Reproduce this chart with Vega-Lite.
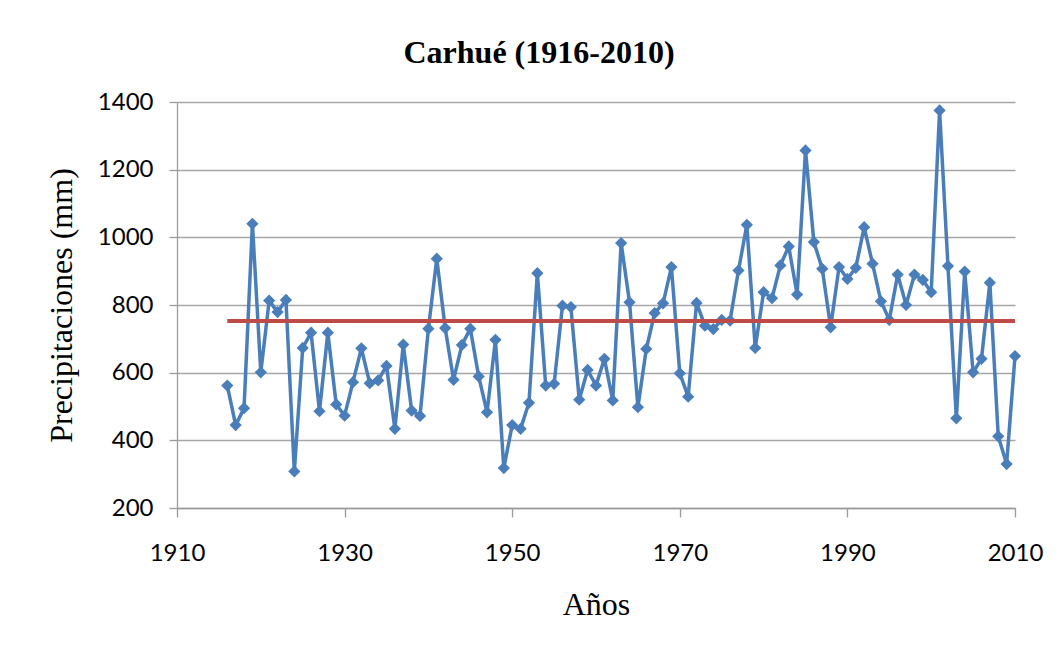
{
  "$schema": "https://vega.github.io/schema/vega-lite/v6.json",
  "width": 838,
  "height": 406,
  "autosize": {"type": "none"},
  "padding": {"left": 177, "top": 102, "right": 44, "bottom": 142},
  "background": "white",
  "title": {
    "text": "Carhué (1916-2010)",
    "font": "Liberation Serif",
    "fontSize": 32,
    "fontWeight": "bold",
    "color": "black",
    "anchor": "middle",
    "frame": "group",
    "dx": -57,
    "offset": 20
  },
  "datasets": {
    "serie": [
      {"year": 1916, "pp": 562}, {"year": 1917, "pp": 445}, {"year": 1918, "pp": 495}, {"year": 1919, "pp": 1040},
      {"year": 1920, "pp": 601}, {"year": 1921, "pp": 813}, {"year": 1922, "pp": 779}, {"year": 1923, "pp": 815},
      {"year": 1924, "pp": 308}, {"year": 1925, "pp": 673}, {"year": 1926, "pp": 718}, {"year": 1927, "pp": 486},
      {"year": 1928, "pp": 718}, {"year": 1929, "pp": 506}, {"year": 1930, "pp": 473}, {"year": 1931, "pp": 572},
      {"year": 1932, "pp": 672}, {"year": 1933, "pp": 569}, {"year": 1934, "pp": 577}, {"year": 1935, "pp": 620},
      {"year": 1936, "pp": 434}, {"year": 1937, "pp": 683}, {"year": 1938, "pp": 488}, {"year": 1939, "pp": 472},
      {"year": 1940, "pp": 730}, {"year": 1941, "pp": 937}, {"year": 1942, "pp": 732}, {"year": 1943, "pp": 579},
      {"year": 1944, "pp": 682}, {"year": 1945, "pp": 730}, {"year": 1946, "pp": 589}, {"year": 1947, "pp": 483},
      {"year": 1948, "pp": 697}, {"year": 1949, "pp": 318}, {"year": 1950, "pp": 445}, {"year": 1951, "pp": 434},
      {"year": 1952, "pp": 511}, {"year": 1953, "pp": 894}, {"year": 1954, "pp": 562}, {"year": 1955, "pp": 567},
      {"year": 1956, "pp": 798}, {"year": 1957, "pp": 794}, {"year": 1958, "pp": 520}, {"year": 1959, "pp": 608},
      {"year": 1960, "pp": 562}, {"year": 1961, "pp": 641}, {"year": 1962, "pp": 518}, {"year": 1963, "pp": 983},
      {"year": 1964, "pp": 808}, {"year": 1965, "pp": 498}, {"year": 1966, "pp": 670}, {"year": 1967, "pp": 776},
      {"year": 1968, "pp": 805}, {"year": 1969, "pp": 912}, {"year": 1970, "pp": 598}, {"year": 1971, "pp": 529},
      {"year": 1972, "pp": 806}, {"year": 1973, "pp": 739}, {"year": 1974, "pp": 729}, {"year": 1975, "pp": 756},
      {"year": 1976, "pp": 754}, {"year": 1977, "pp": 902}, {"year": 1978, "pp": 1037}, {"year": 1979, "pp": 673},
      {"year": 1980, "pp": 838}, {"year": 1981, "pp": 820}, {"year": 1982, "pp": 917}, {"year": 1983, "pp": 973},
      {"year": 1984, "pp": 831}, {"year": 1985, "pp": 1257}, {"year": 1986, "pp": 986}, {"year": 1987, "pp": 907},
      {"year": 1988, "pp": 734}, {"year": 1989, "pp": 912}, {"year": 1990, "pp": 877}, {"year": 1991, "pp": 910},
      {"year": 1992, "pp": 1030}, {"year": 1993, "pp": 922}, {"year": 1994, "pp": 811}, {"year": 1995, "pp": 756},
      {"year": 1996, "pp": 890}, {"year": 1997, "pp": 800}, {"year": 1998, "pp": 890}, {"year": 1999, "pp": 874},
      {"year": 2000, "pp": 838}, {"year": 2001, "pp": 1375}, {"year": 2002, "pp": 915}, {"year": 2003, "pp": 465},
      {"year": 2004, "pp": 899}, {"year": 2005, "pp": 601}, {"year": 2006, "pp": 641}, {"year": 2007, "pp": 866},
      {"year": 2008, "pp": 412}, {"year": 2009, "pp": 330}, {"year": 2010, "pp": 649}
    ],
    "media": [
      {"year": 1916, "pp": 753},
      {"year": 2010, "pp": 753}
    ]
  },
  "encoding": {
    "x": {
      "field": "year",
      "type": "quantitative",
      "scale": {"domain": [1910, 2010], "nice": false, "zero": false},
      "axis": {
        "title": "Años",
        "values": [1910, 1930, 1950, 1970, 1990, 2010],
        "format": "d",
        "grid": false,
        "labelFlush": false,
        "tickSize": 9,
        "labelPadding": 24,
        "titlePadding": 24
      }
    },
    "y": {
      "field": "pp",
      "type": "quantitative",
      "scale": {"domain": [200, 1400], "nice": false, "zero": false},
      "axis": {
        "title": "Precipitaciones (mm)",
        "values": [200, 400, 600, 800, 1000, 1200, 1400],
        "format": "d",
        "grid": true,
        "tickSize": 8,
        "labelPadding": 16,
        "titlePadding": 19
      }
    }
  },
  "layer": [
    {
      "data": {"name": "serie"},
      "mark": {"type": "line", "color": "#4a7ebb", "strokeWidth": 3.5}
    },
    {
      "data": {"name": "serie"},
      "mark": {"type": "point", "shape": "diamond", "filled": true, "size": 150, "color": "#4a7ebb", "opacity": 1}
    },
    {
      "data": {"name": "media"},
      "mark": {"type": "line", "color": "#be4b48", "strokeWidth": 4}
    }
  ],
  "config": {
    "view": {"stroke": null},
    "axis": {
      "domainColor": "#9a9a9a",
      "domainWidth": 1.3,
      "tickColor": "#9a9a9a",
      "tickWidth": 1.3,
      "gridColor": "#a6a6a6",
      "gridWidth": 1.3,
      "gridOpacity": 1,
      "labelFont": "Lato",
      "labelFontSize": 24,
      "labelColor": "#000000",
      "titleFont": "Liberation Serif",
      "titleFontSize": 32,
      "titleFontWeight": "normal",
      "titleColor": "#000000"
    }
  }
}
